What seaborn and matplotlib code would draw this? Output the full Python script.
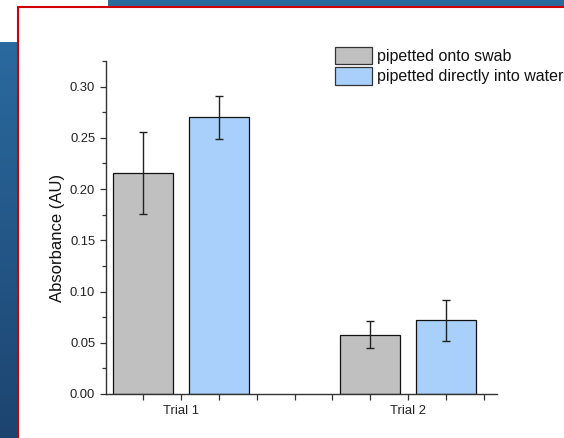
import numpy as np
import pandas as pd
import matplotlib
matplotlib.use("Agg")
import matplotlib.pyplot as plt
import seaborn as sns
from matplotlib.patches import Patch
from matplotlib.lines import Line2D
from matplotlib.colors import to_rgb
from matplotlib.ticker import FixedLocator, MultipleLocator, FormatStrFormatter

# ---- data -------------------------------------------------------------
trials = ["Trial 1", "Trial 2"]
methods = ["pipetted onto swab", "pipetted directly into water"]
swab_mean = [0.216, 0.058]
swab_err = [0.040, 0.013]
water_mean = [0.270, 0.072]
water_err = [0.021, 0.020]
bar_colors = ["#c0c0c0", "#a8d0fa"]

df = pd.DataFrame({
    "trial": trials * 2,
    "method": [methods[0]] * len(trials) + [methods[1]] * len(trials),
    "absorbance": swab_mean + water_mean,
    "err": swab_err + water_err,
})

sns.set_theme(style="white")
plt.rcParams["font.family"] = ["Liberation Sans", "DejaVu Sans"]

W, H = 564, 438
fig = plt.figure(figsize=(W / 100, H / 100), dpi=100)
fig.patch.set_facecolor("white")


def px(x0, y0, x1, y1):
    """Figure-fraction rectangle from pixel edges (origin top-left)."""
    return [x0 / W, 1 - y1 / H, (x1 - x0) / W, (y1 - y0) / H]


def gradient_panel(rect, top, bottom):
    a = fig.add_axes(rect)
    c0, c1 = np.array(to_rgb(top)), np.array(to_rgb(bottom))
    t = np.linspace(0, 1, 256)[:, None, None]
    img = c0 * (1 - t) + c1 * t
    a.imshow(img, aspect="auto", extent=(0, 1, 0, 1), interpolation="bilinear")
    a.set_axis_off()
    return a


# slide backdrop
gradient_panel(px(108, 0, W, 7), "#2a6b9f", "#2a6a9e")
gradient_panel(px(0, 42, 17.5, H), "#2a6a9f", "#1d4470")
fig.add_artist(Line2D([17.5 / W, 1], [1 - 7.3 / H, 1 - 7.3 / H],
                      transform=fig.transFigure, color="#d00000", lw=1.5))
fig.add_artist(Line2D([18.4 / W, 18.4 / W], [0, 1 - 6.6 / H],
                      transform=fig.transFigure, color="#d00000", lw=1.5))

# ---- bar chart --------------------------------------------------------
ax = fig.add_axes(px(106, 61, 496.7, 394))
ax.set_facecolor("none")
sns.barplot(data=df, x="trial", y="absorbance", hue="method",
            hue_order=methods, order=trials, palette=bar_colors,
            saturation=1, width=0.67, gap=0.21, edgecolor="#111111",
            linewidth=0.9, errorbar=None, legend=False, ax=ax, zorder=2)

for container, method in zip(ax.containers, methods):
    sub = df[df["method"] == method].set_index("trial")
    xs, ys, es = [], [], []
    for bar in container:
        xc = bar.get_x() + bar.get_width() / 2
        trial = trials[int(round(xc))]
        xs.append(xc)
        ys.append(bar.get_height())
        es.append(sub.loc[trial, "err"])
    ax.errorbar(xs, ys, yerr=es, fmt="none", ecolor="#222222",
                elinewidth=1.0, capsize=3.2, capthick=1.0, zorder=3)

ax.set_xlim(-0.332, 1.391)
ax.set_ylim(0, 0.325)
sns.despine(ax=ax)
for s in ("left", "bottom"):
    ax.spines[s].set_color("#333333")
    ax.spines[s].set_linewidth(1.0)

ax.xaxis.set_major_locator(FixedLocator([0, 1]))
ax.set_xticklabels(trials)
ax.xaxis.set_minor_locator(FixedLocator([k / 6 for k in range(-2, 9) if k not in (0, 6)]))
ax.yaxis.set_major_locator(MultipleLocator(0.05))
ax.yaxis.set_minor_locator(MultipleLocator(0.025))
ax.yaxis.set_major_formatter(FormatStrFormatter("%.2f"))

ax.tick_params(which="both", direction="out", color="#333333", width=0.9,
               bottom=True, left=True)
ax.tick_params(which="major", length=4.3, labelsize=9.4, labelcolor="#222222", pad=3.5)
ax.tick_params(axis="x", which="minor", length=4.3)
ax.tick_params(axis="y", which="minor", length=3.2)

ax.set_xlabel("")
ax.set_ylabel("Absorbance (AU)", fontsize=12, color="#111111")
ax.yaxis.set_label_coords(-0.105, 0.468)

handles = [Patch(facecolor=c, edgecolor="#333333", lw=0.9, label=m)
           for c, m in zip(bar_colors, methods)]
fig.legend(handles=handles, loc="upper left",
           bbox_to_anchor=(335 / W, 1 - 46.5 / H), frameon=False,
           fontsize=11.5, handlelength=2.3, handleheight=1.35,
           handletextpad=0.3, labelspacing=0.15, borderpad=0,
           borderaxespad=0, labelcolor="#111111")

fig.savefig("out.png", dpi=100)
